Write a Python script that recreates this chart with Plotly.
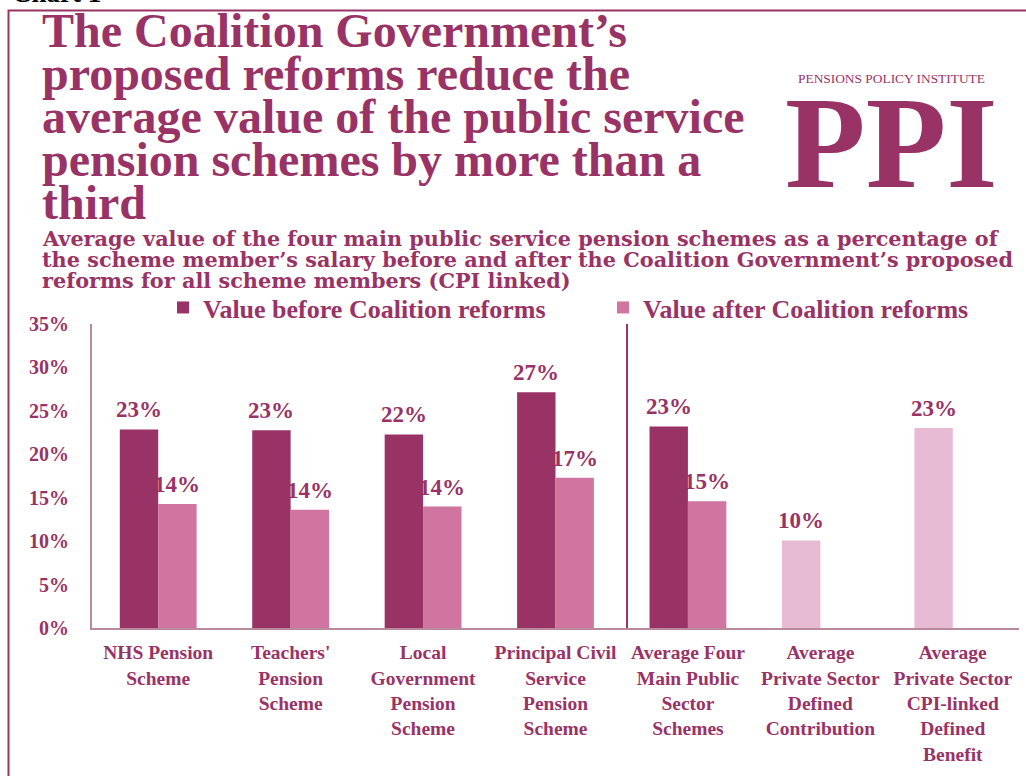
import plotly.graph_objects as go

# ---- data -------------------------------------------------------------
categories = [
    "NHS Pension<br>Scheme",
    "Teachers'<br>Pension<br>Scheme",
    "Local<br>Government<br>Pension<br>Scheme",
    "Principal Civil<br>Service<br>Pension<br>Scheme",
    "Average Four<br>Main Public<br>Sector<br>Schemes",
    "Average<br>Private Sector<br>Defined<br>Contribution",
    "Average<br>Private Sector<br>CPI-linked<br>Defined<br>Benefit",
]
value_before = [22.86, 22.78, 22.29, 27.14, 23.2, None, None]
value_after = [14.29, 13.6, 13.98, 17.31, 14.6, None, None]
value_private = [None, None, None, None, None, 10.08, 23.04]

y_ticks = [0, 5, 10, 15, 20, 25, 30, 35]
y_tick_text = [f"{v}%" for v in y_ticks]

title_lines = [
    "The Coalition Government’s",
    "proposed reforms reduce the",
    "average value of the public service",
    "pension schemes by more than a",
    "third",
]
subtitle_lines = [
    "Average value of the four main public service pension schemes as a percentage of",
    "the scheme member’s salary before and after the Coalition Government’s proposed",
    "reforms for all scheme members (CPI linked)",
]

# ---- style ------------------------------------------------------------
PLUM = "#993366"
PINK = "#d0759f"
LIGHT = "#e8bbd4"
AXIS = "#b98a9c"
SERIF = "Liberation Serif"
WIDE_SERIF = "DejaVu Serif"

W, H = 1026, 776
ML, MR, MT, MB = 92, 7, 323.5, 147.5
PW, PH = W - ML - MR, H - MT - MB


def px_x(x):
    return (x - ML) / PW


def px_y(y):
    return (H - MB - y) / PH


BAR_W = 0.29
BAR_PX = BAR_W * PW / len(categories)

fig = go.Figure()
fig.add_trace(go.Bar(
    x=categories, y=value_before, name="Value before Coalition reforms",
    marker=dict(color=PLUM, line=dict(width=0)), width=BAR_W, offset=-BAR_W,
    legend="legend",
))
fig.add_trace(go.Bar(
    x=categories, y=value_after, name="Value after Coalition reforms",
    marker=dict(color=PINK, line=dict(width=0)), width=BAR_W, offset=0,
    legend="legend2",
))
fig.add_trace(go.Bar(
    x=categories, y=value_private, name="Private sector", showlegend=False,
    marker=dict(color=LIGHT, line=dict(width=0)), width=BAR_W, offset=-BAR_W,
))

annotations = []

# value labels above each bar (left slot / right slot of each category)
for vals, shift in ((value_before, -BAR_PX / 2), (value_after, BAR_PX / 2),
                    (value_private, -BAR_PX / 2)):
    for cat, v in zip(categories, vals):
        if v is None:
            continue
        annotations.append(dict(
            text=f"{v:.0f}%", xref="x", yref="y", x=cat, y=v,
            xshift=shift, yshift=5, xanchor="center", yanchor="bottom",
            showarrow=False,
            font=dict(family=SERIF, size=23, color=PLUM, weight="bold"),
        ))

# headline
for i, line in enumerate(title_lines):
    annotations.append(dict(
        text=line, xref="paper", yref="paper", x=px_x(40), y=px_y(29.5 + 43 * i),
        xanchor="left", yanchor="middle", showarrow=False,
        font=dict(family=SERIF, size=48, color=PLUM, weight="bold"),
    ))
# sub-heading
for i, line in enumerate(subtitle_lines):
    annotations.append(dict(
        text=line, xref="paper", yref="paper", x=px_x(40), y=px_y(238 + 21 * i),
        xanchor="left", yanchor="middle", showarrow=False,
        font=dict(family=WIDE_SERIF, size=20.8, color=PLUM, weight="bold"),
    ))
# chart number (mostly above the page edge)
annotations.append(dict(
    text="Chart 1", xref="paper", yref="paper", x=px_x(10), y=px_y(-9),
    xanchor="left", yanchor="middle", showarrow=False,
    font=dict(family=SERIF, size=27, color="#000000", weight="bold"),
))
# logo
annotations.append(dict(
    text="PENSIONS POLICY INSTITUTE", xref="paper", yref="paper",
    x=px_x(891), y=px_y(77), xanchor="center", yanchor="middle", showarrow=False,
    font=dict(family=SERIF, size=13.4, color=PLUM),
))
annotations.append(dict(
    text="PPI", xref="paper", yref="paper",
    x=px_x(891), y=px_y(141), xanchor="center", yanchor="middle", showarrow=False,
    font=dict(family=SERIF, size=132, color=PLUM, weight="bold"),
))

shapes = [
    # page frame
    dict(type="rect", xref="paper", yref="paper",
         x0=px_x(8.5), x1=px_x(1040), y0=px_y(790), y1=px_y(9),
         line=dict(color=PLUM, width=2), fillcolor="rgba(0,0,0,0)", layer="below"),
    # divider between public and private sector groups
    dict(type="line", xref="x", yref="y", x0=3.54, x1=3.54, y0=-0.98, y1=35.2,
         line=dict(color=PLUM, width=2)),
]

legend_style = dict(
    orientation="h", xanchor="left", yanchor="middle",
    font=dict(family=SERIF, size=26, color=PLUM, weight="bold"),
    bgcolor="rgba(0,0,0,0)", itemclick=False, itemdoubleclick=False,
)

fig.update_layout(
    width=W, height=H,
    margin=dict(l=ML, r=MR, t=MT, b=MB, pad=0),
    paper_bgcolor="white", plot_bgcolor="white",
    barmode="overlay",
    font=dict(family=SERIF, color=PLUM),
    showlegend=True,
    legend=dict(x=px_x(163), y=px_y(307), **legend_style),
    legend2=dict(x=px_x(603), y=px_y(307), **legend_style),
    annotations=annotations,
    shapes=shapes,
    xaxis=dict(
        type="category", range=[-0.5, 6.5], showgrid=False, zeroline=False,
        showline=True, linecolor=AXIS, linewidth=2, ticks="",
        tickfont=dict(family=SERIF, size=19.5, color=PLUM, weight="bold"),
        ticklabelstandoff=6,
    ),
    yaxis=dict(
        range=[0, 35], tickmode="array", tickvals=y_ticks, ticktext=y_tick_text,
        showgrid=False, zeroline=False, showline=True, linecolor=AXIS,
        linewidth=2, ticks="",
        tickfont=dict(family=SERIF, size=20, color=PLUM, weight="bold"),
        ticklabelstandoff=17,
    ),
)

fig.write_html("out.html")
